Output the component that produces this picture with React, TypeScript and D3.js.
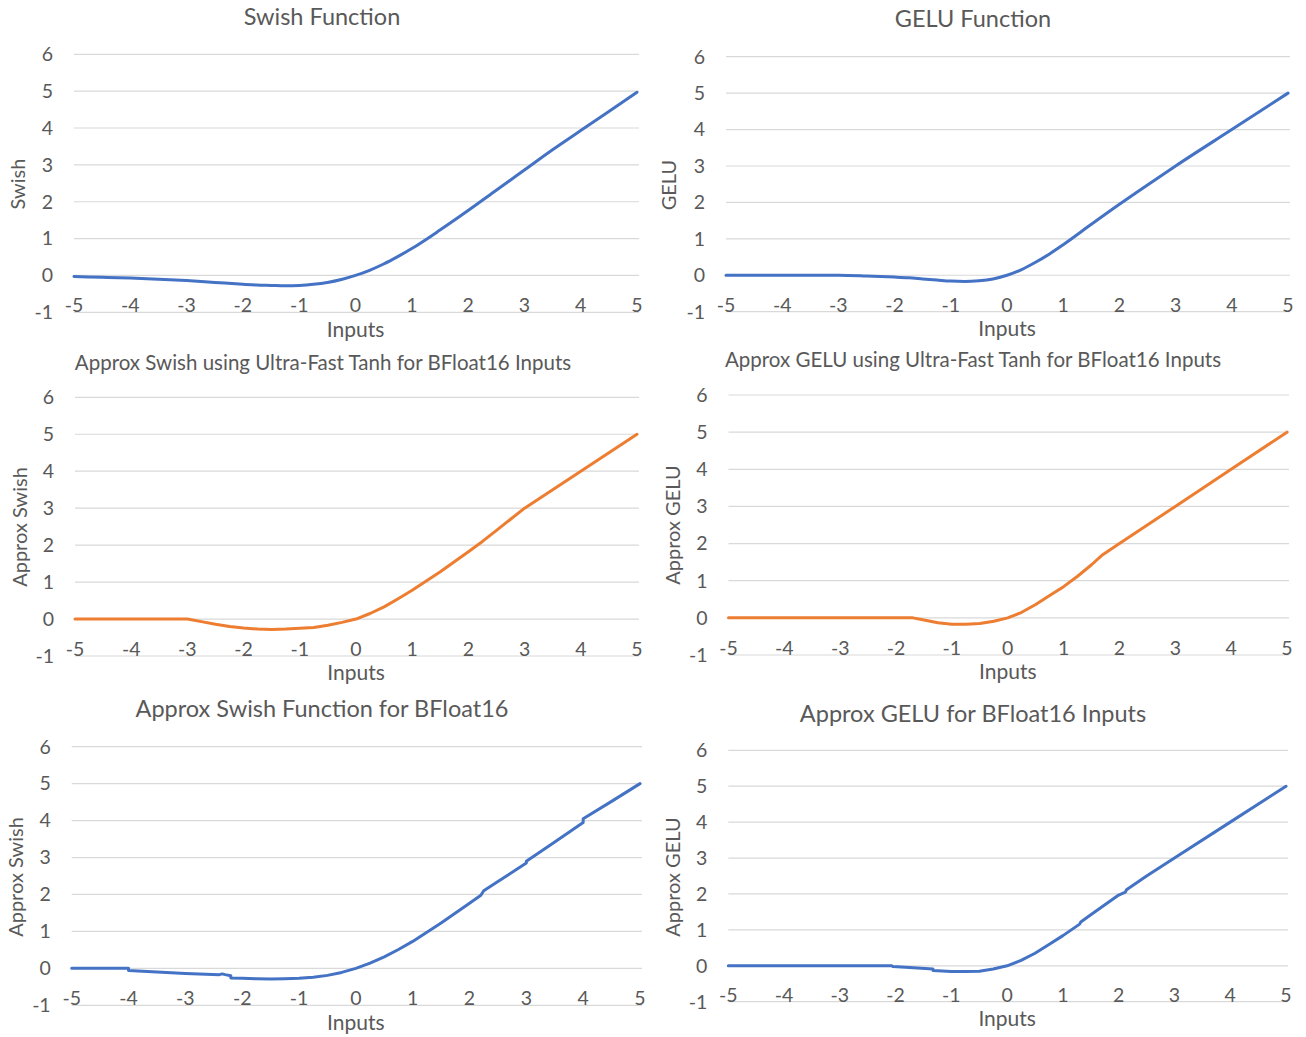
import React, { useEffect, useRef } from "react";
import * as d3 from "d3";

// ---- data (x = input, y = output) ----
const yTicks = [-1, 0, 1, 2, 3, 4, 5, 6];
const xTicks = [-5, -4, -3, -2, -1, 0, 1, 2, 3, 4, 5];

const swishX = [-5, -4.5, -4, -3.5, -3, -2.5, -2, -1.75, -1.5, -1.25, -1, -0.75, -0.5, -0.25, 0, 0.25, 0.5, 0.75, 1, 1.5, 2, 2.5, 3, 3.5, 4, 4.5, 5];
const swishY = [-0.03, -0.05, -0.07, -0.1, -0.14, -0.19, -0.24, -0.26, -0.27, -0.28, -0.27, -0.24, -0.19, -0.11, 0, 0.14, 0.31, 0.51, 0.73, 1.23, 1.76, 2.31, 2.86, 3.41, 3.93, 4.45, 4.97];

const geluX = [-5, -4, -3, -2.5, -2, -1.75, -1.5, -1.25, -1, -0.75, -0.5, -0.25, 0, 0.25, 0.5, 0.75, 1, 1.5, 2, 2.5, 3, 4, 5];
const geluY = [0, 0, 0, -0.02, -0.05, -0.07, -0.1, -0.13, -0.16, -0.17, -0.15, -0.1, 0, 0.15, 0.35, 0.58, 0.84, 1.4, 1.95, 2.48, 3, 4, 5];

const tanhSwishX = [-5, -4, -3, -2.75, -2.5, -2.25, -2, -1.75, -1.5, -1.25, -1, -0.75, -0.5, -0.25, 0, 0.25, 0.5, 0.75, 1, 1.25, 1.5, 1.75, 2, 2.25, 2.5, 2.75, 3, 4, 5];
const tanhSwishY = [0, 0, 0, -0.07, -0.14, -0.2, -0.24, -0.27, -0.28, -0.27, -0.25, -0.23, -0.17, -0.09, 0, 0.15, 0.33, 0.55, 0.78, 1.03, 1.28, 1.55, 1.82, 2.1, 2.4, 2.7, 3, 4, 5];

const tanhGeluX = [-5, -1.7, -1.5, -1.25, -1, -0.75, -0.5, -0.25, 0, 0.25, 0.5, 0.75, 1, 1.25, 1.5, 1.7, 2, 3, 4, 5];
const tanhGeluY = [0, 0, -0.06, -0.13, -0.17, -0.17, -0.15, -0.09, 0, 0.15, 0.36, 0.6, 0.84, 1.12, 1.43, 1.7, 2, 3, 4, 5];

const bfSwishX = [-5, -4, -4, -3.5, -3, -2.4, -2.35, -2.3, -2.2, -2.2, -2, -1.75, -1.5, -1.25, -1, -0.75, -0.5, -0.25, 0, 0.25, 0.5, 0.75, 1, 1.5, 2, 2.2, 2.25, 2.5, 3, 3, 3.5, 4, 4, 4.5, 5];
const bfSwishY = [0, 0, -0.06, -0.1, -0.14, -0.17, -0.15, -0.17, -0.2, -0.26, -0.27, -0.28, -0.29, -0.28, -0.27, -0.24, -0.19, -0.11, 0, 0.14, 0.31, 0.51, 0.73, 1.23, 1.76, 1.98, 2.1, 2.35, 2.85, 2.9, 3.42, 3.95, 4.05, 4.52, 5];

const bfGeluX = [-5, -2.07, -2.05, -1.75, -1.33, -1.33, -1, -0.75, -0.5, -0.25, 0, 0.25, 0.5, 0.75, 1, 1.3, 1.32, 1.5, 2, 2.12, 2.14, 2.5, 3, 4, 5];
const bfGeluY = [0, 0, -0.02, -0.05, -0.09, -0.13, -0.16, -0.16, -0.15, -0.09, 0, 0.15, 0.35, 0.59, 0.84, 1.16, 1.22, 1.42, 1.97, 2.05, 2.12, 2.5, 3, 4, 5];

const titles = [
  "Swish Function",
  "GELU Function",
  "Approx Swish using Ultra-Fast Tanh for BFloat16 Inputs",
  "Approx GELU using Ultra-Fast Tanh for BFloat16 Inputs",
  "Approx Swish Function for BFloat16",
  "Approx GELU for BFloat16 Inputs",
];
const yTitles = ["Swish", "GELU", "Approx Swish", "Approx GELU", "Approx Swish", "Approx GELU"];

const BLUE = "#4472C4";
const ORANGE = "#ED7D31";
const TEXT = "#595959";
const GRID = "#d9d9d9";
const FONT = "Lato, 'Open Sans', sans-serif";

// panel layout (pixels in page space)
const panels = [
  { xs: swishX, ys: swishY, color: BLUE, x0: 74, x1: 637, top: 54.3, bottom: 312.3, tx: 322, ty: 17, ts: 23.5, lx: 18, ly: 184 },
  { xs: geluX, ys: geluY, color: BLUE, x0: 726, x1: 1288, top: 56.7, bottom: 311.7, tx: 973, ty: 19, ts: 23.5, lx: 669, ly: 185 },
  { xs: tanhSwishX, ys: tanhSwishY, color: ORANGE, x0: 75, x1: 637, top: 397.3, bottom: 656, tx: 323, ty: 363, ts: 20.5, lx: 20, ly: 527 },
  { xs: tanhGeluX, ys: tanhGeluY, color: ORANGE, x0: 728.5, x1: 1287, top: 395, bottom: 655, tx: 973, ty: 360, ts: 20.5, lx: 673, ly: 525 },
  { xs: bfSwishX, ys: bfSwishY, color: BLUE, x0: 71.7, x1: 640, top: 746.7, bottom: 1005.3, tx: 322, ty: 709, ts: 23.5, lx: 16, ly: 877 },
  { xs: bfGeluX, ys: bfGeluY, color: BLUE, x0: 728.3, x1: 1286, top: 750.3, bottom: 1001.7, tx: 973, ty: 714, ts: 23.5, lx: 673, ly: 877 },
];

export default function App() {
  const ref = useRef<SVGSVGElement>(null);

  useEffect(() => {
    const svg = d3.select(ref.current);
    svg.selectAll("*").remove();

    svg.append("rect").attr("width", 1306).attr("height", 1037).attr("fill", "#fff");

    panels.forEach((p, i) => {
      const g = svg.append("g").attr("font-family", FONT).attr("fill", TEXT);

      const x = d3.scaleLinear().domain([-5, 5]).range([p.x0, p.x1]);
      const y = d3.scaleLinear().domain([-1, 6]).range([p.bottom, p.top]);

      // gridlines
      g.selectAll("line.grid")
        .data(yTicks)
        .enter()
        .append("line")
        .attr("x1", p.x0)
        .attr("x2", p.x1 + 2)
        .attr("y1", d => y(d))
        .attr("y2", d => y(d))
        .attr("stroke", GRID)
        .attr("stroke-width", 1.2);

      // y tick labels
      g.selectAll("text.ytick")
        .data(yTicks)
        .enter()
        .append("text")
        .attr("x", p.x0 - 21)
        .attr("y", d => y(d))
        .attr("dy", "0.35em")
        .attr("text-anchor", "end")
        .attr("font-size", 19.5)
        .text(d => d);

      // x tick labels (sit just above the -1 gridline, like Excel's "low" labels)
      g.selectAll("text.xtick")
        .data(xTicks)
        .enter()
        .append("text")
        .attr("x", d => x(d))
        .attr("y", y(-1) - 7)
        .attr("dy", "0.35em")
        .attr("text-anchor", "middle")
        .attr("font-size", 19.5)
        .text(d => d);

      // series
      const pts = p.xs.map((v, k) => [v, p.ys[k]] as [number, number]);
      const line = d3.line<[number, number]>()
        .x(d => x(d[0]))
        .y(d => y(d[1]))
        .curve(i < 2 ? d3.curveMonotoneX : d3.curveLinear);
      g.append("path")
        .datum(pts)
        .attr("d", line)
        .attr("fill", "none")
        .attr("stroke", p.color)
        .attr("stroke-width", 3)
        .attr("stroke-linejoin", "round")
        .attr("stroke-linecap", "round");

      // titles
      g.append("text")
        .attr("x", p.tx)
        .attr("y", p.ty)
        .attr("dy", "0.35em")
        .attr("text-anchor", "middle")
        .attr("font-size", p.ts)
        .text(titles[i]);

      g.append("text")
        .attr("x", (p.x0 + p.x1) / 2)
        .attr("y", y(-1) + 17)
        .attr("dy", "0.35em")
        .attr("text-anchor", "middle")
        .attr("font-size", 21)
        .text("Inputs");

      g.append("text")
        .attr("transform", `translate(${p.lx},${p.ly}) rotate(-90)`)
        .attr("dy", "0.35em")
        .attr("text-anchor", "middle")
        .attr("font-size", 20)
        .text(yTitles[i]);
    });
  }, []);

  return (
    <svg
      ref={ref}
      width={1306}
      height={1037}
      style={{ position: "absolute", left: 0, top: 0 }}
    />
  );
}
